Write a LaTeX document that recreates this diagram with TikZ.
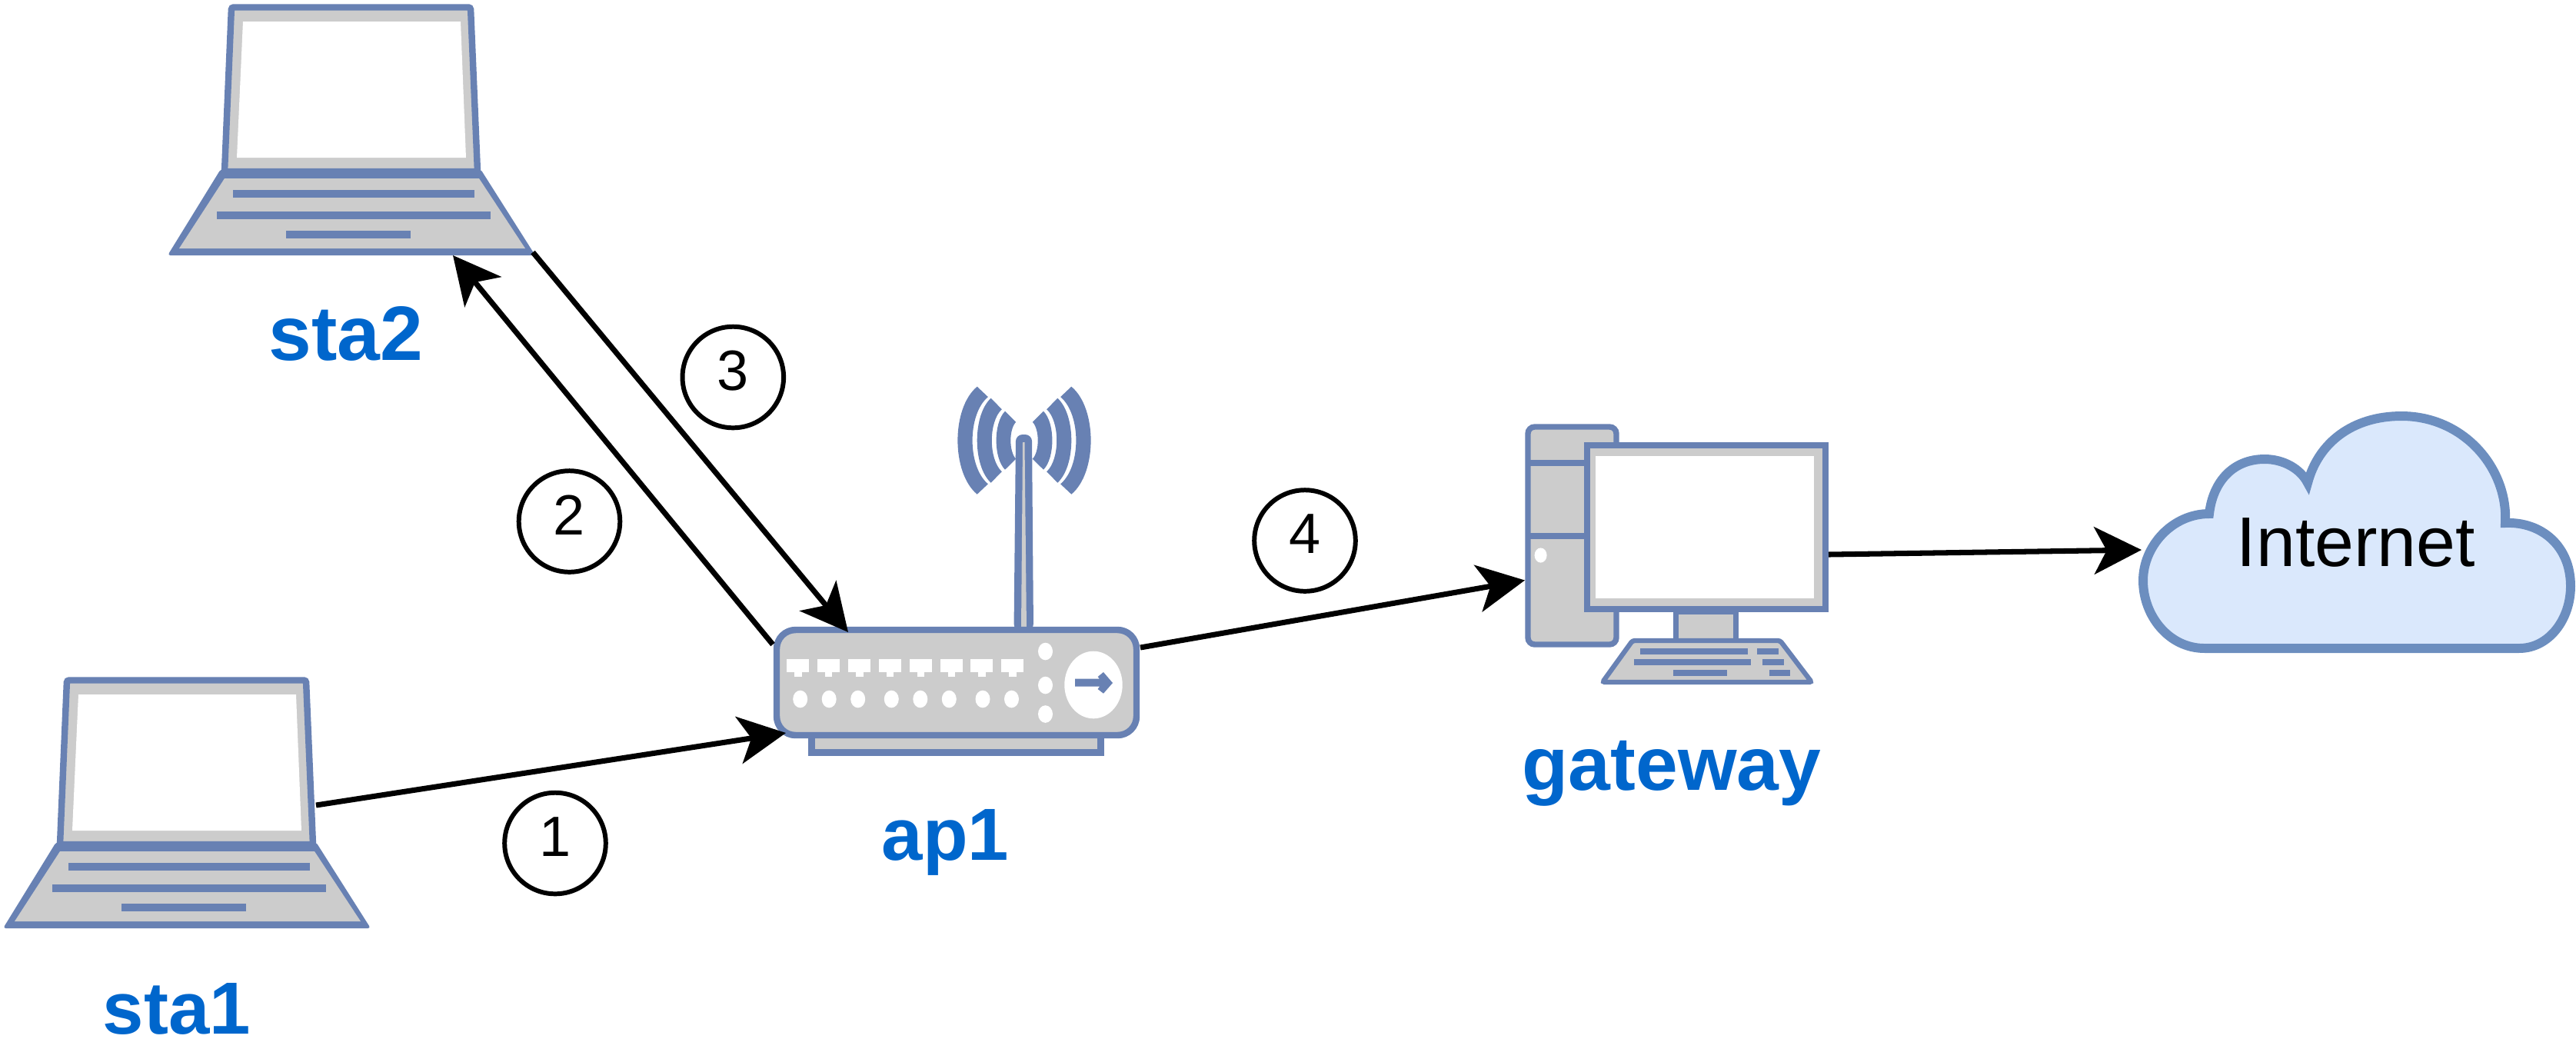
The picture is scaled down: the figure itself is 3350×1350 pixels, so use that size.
\documentclass[tikz,border=0pt]{standalone}
\usepackage{fontspec}
\setmainfont{Liberation Sans}
\usepackage{xcolor}
\usetikzlibrary{arrows.meta}

\definecolor{iconline}{HTML}{6881B3}
\definecolor{iconfill}{HTML}{CCCCCC}
\definecolor{cloudline}{HTML}{6C8EBF}
\definecolor{cloudfill}{HTML}{DAE8FC}
\definecolor{labelblue}{HTML}{0066CC}

\tikzset{
    iconbody/.style={draw=iconline, fill=iconfill, line width=2.4pt},
    iconmark/.style={fill=iconline},
    iconhole/.style={fill=white},
    devlabel/.style={text=labelblue, inner sep=0pt, anchor=base, font=\fontsize{27.3}{30}\selectfont\bfseries},
    stepmark/.style={draw, circle, line width=1.7pt, inner sep=0pt, minimum size=1.315cm, text depth=0.17cm, font=\fontsize{21}{24}\selectfont},
    link/.style={line width=2pt, -{Stealth[length=17.5pt, width=17.5pt, inset=4.6pt]}}
}

\begin{document}
\begin{tikzpicture}[x=0.01cm, y=-0.01cm]
    \useasboundingbox (0,0) rectangle (3350,1350);

    % Laptops
    \foreach \name/\dx/\dy in {sta1/0/0, sta2/214/-875} {
        \begin{scope}[shift={(\dx,\dy)}]
            \draw[iconbody, rounded corners=0.8pt] (87,884.5) -- (398,884.5) -- (407,1098) -- (78,1098) -- cycle;
            \fill[iconhole] (102,903) -- (385,903) -- (392,1080) -- (94,1080) -- cycle;
            \fill[iconmark, rounded corners=1pt] (73,1095) -- (411,1095) -- (482,1207) -- (4,1207) -- cycle;
            \fill[iconfill] (78,1107) -- (409,1107) -- (469,1198) -- (19,1198) -- cycle;
            % Keyboard rows
            \foreach \xa/\xb/\ya in {89/403/1122, 68/424/1150, 158/320/1175} {
                \fill[iconmark] (\xa,\ya) rectangle (\xb,\ya+9.5);
            }
        \end{scope}
    }

    % Access point
    \draw[iconbody] (1055.5,956) rectangle (1431.5,978.5);
    \fill[iconline, rounded corners=2.5pt] (1318.5,820) -- (1321,565) -- (1342,565) -- (1344,820) -- cycle;
    \fill[iconfill] (1328,820) -- (1330,575) -- (1332.5,575) -- (1335,820) -- cycle;
    \draw[iconbody, rounded corners=7pt] (1010,819) rectangle (1478,956);
    \foreach \px in {1023.1, 1062.9, 1103, 1142.9, 1182.7, 1222.5, 1262.3, 1302.1} {
        \fill[iconhole] (\px,857) rectangle (\px+29,874);
        \fill[iconhole] (\px+10,874) rectangle (\px+19.5,880);
    }
    \foreach \px in {1040.7, 1078.2, 1115.7, 1159.3, 1196.8, 1234.3, 1278, 1315.5} {
        \fill[iconhole] (\px,909) ellipse [x radius=9.5, y radius=11.3];
    }
    \foreach \py in {847, 891, 928.5} {
        \fill[iconhole] (1359.5,\py) ellipse [x radius=9.5, y radius=11.3];
    }
    \fill[iconhole] (1422,890.5) ellipse [x radius=37.7, y radius=43.8];
    \fill[iconmark] (1398,882.7) -- (1430,882.7) -- (1427.6,880) -- (1435,874) -- (1447,888)
        -- (1435,901.7) -- (1427.6,896) -- (1430,892.7) -- (1398,892.7) -- cycle;

    % Radio waves
    \foreach \side in {1,-1} {
        \begin{scope}[shift={(1332,572.7)}, xscale=\side]
            \foreach \ao/\ho/\mo/\ai/\hi/\mi in {61.3/70/86.6/47.1/56.6/67.4, 43.3/55/61.3/29.2/40.5/42.2, 25/38/36.4/10.8/24/17.7} {
                \fill[iconmark] (-\ao,-\ho) .. controls ({-(4*\mo-\ao)/3},{-0.6*\ho}) and ({-(4*\mo-\ao)/3},{0.6*\ho}) .. (-\ao,\ho)
                    -- (-\ai,\hi) .. controls ({-(4*\mi-\ai)/3},{0.6*\hi}) and ({-(4*\mi-\ai)/3},{-0.6*\hi}) .. (-\ai,-\hi) -- cycle;
            }
        \end{scope}
    }

    % Gateway
    \draw[iconbody, rounded corners=2.5pt, line width=2.1pt] (1987,555) rectangle (2102,838);
    \foreach \py in {602, 697} {
        \fill[iconmark] (1985,\py-4) rectangle (2104,\py+4);
    }
    \fill[iconhole] (2003.6,722) ellipse [x radius=8, y radius=9.6];
    \draw[iconbody, line width=1.8pt] (2179.5,796) rectangle (2257.5,834);
    \draw[iconbody, line width=2.2pt] (2064,579) rectangle (2374,792);
    \fill[iconhole] (2075,593) rectangle (2359,778);
    \draw[iconbody, line width=1.8pt, rounded corners=0.8pt] (2123,833) -- (2315,833) -- (2356,887) -- (2084,887) -- cycle;
    \foreach \xa/\xb/\ya in {2133/2273/842.5, 2285/2312.6/842.5, 2125/2277/857, 2292/2320/857, 2176/2246/870.5, 2300.5/2328/870.5} {
        \fill[iconmark] (\xa,\ya) rectangle (\xb,\ya+8);
    }

    % Cloud
    \draw[draw=cloudline, fill=cloudfill, line width=3.4pt]
        (2867,843) .. controls (2820,843) and (2787,800) .. (2787,755)
        .. controls (2787,710) and (2825,668) .. (2873,668)
        .. controls (2878,625) and (2905,597) .. (2945,597)
        .. controls (2970,597) and (2992,610) .. (3001,628)
        .. controls (3015,575) and (3060,541) .. (3123,541)
        .. controls (3205,541) and (3262,610) .. (3258,680)
        .. controls (3305,678) and (3343,710) .. (3343,762)
        .. controls (3343,805) and (3315,843) .. (3276,843) -- cycle;
    \node[inner sep=0pt, font=\fontsize{26}{30}\selectfont] (internet) at (3064,705) {Internet};

    % Labels
    \node[devlabel] (sta1label) at (230,1344) {sta1};
    \node[devlabel, font=\fontsize{28.5}{30}\selectfont\bfseries] (sta2label) at (450,468) {sta2};
    \node[devlabel] (ap1label) at (1229.5,1118) {ap1};
    \node[devlabel, font=\fontsize{28}{30}\selectfont\bfseries] (gwlabel) at (2174,1027) {gateway};

    % Step numbers
    \node[stepmark] (step1) at (722,1096.5) {1};
    \node[stepmark] (step2) at (740.5,678) {2};
    \node[stepmark] (step3) at (953.3,490.5) {3};
    \node[stepmark] (step4) at (1697,703) {4};

    % Connector ends
    \coordinate (sta1out) at (411,1047);
    \coordinate (ap1left) at (1022,953);
    \coordinate (ap1corner) at (1005,838);
    \coordinate (sta2in) at (589,332);
    \coordinate (sta2out) at (693,328);
    \coordinate (ap1top) at (1103,822);
    \coordinate (ap1right) at (1483,842);
    \coordinate (gwin) at (1983,754.5);
    \coordinate (gwout) at (2378,721);
    \coordinate (cloudin) at (2785,715);

    % Connectors
    \draw[link] (sta1out) -- (ap1left);
    \draw[link] (ap1corner) -- (sta2in);
    \draw[link] (sta2out) -- (ap1top);
    \draw[link] (ap1right) -- (gwin);
    \draw[link] (gwout) -- (cloudin);
\end{tikzpicture}
\end{document}
